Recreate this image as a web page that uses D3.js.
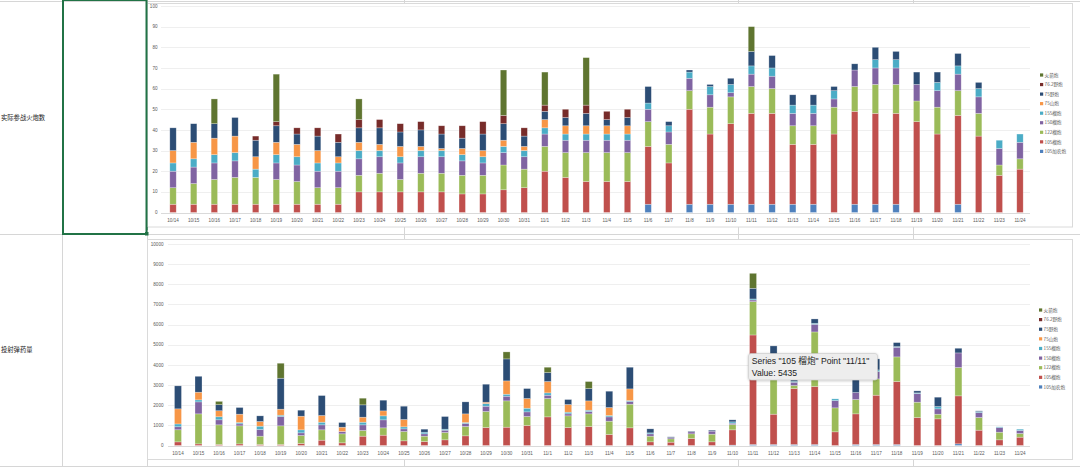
<!DOCTYPE html>
<meta charset="utf-8">
<style>
  body { margin: 0; background: #fff; }
  text { font-family: "Liberation Sans", "Noto Sans CJK SC", sans-serif; }
  .cjk { font-family: "Noto Sans CJK SC", sans-serif; }
</style>
<body>
<script src="https://d3js.org/d3.v7.min.js"></script>
<script>

var width = 1080,
    height = 467;

// categories
var dates = ["10/14","10/15","10/16","10/17","10/18","10/19","10/20","10/21","10/22","10/23",
  "10/24","10/25","10/26","10/27","10/28","10/29","10/30","10/31",
  "11/1","11/2","11/3","11/4","11/5","11/6","11/7","11/8","11/9","11/10","11/11","11/12",
  "11/13","11/14","11/15","11/16","11/17","11/18","11/19","11/20","11/21","11/22","11/23","11/24"];

// series, bottom of stack first
var seriesNames = ["105加农炮","105榴炮","122榴炮","150榴炮","155榴炮","75山炮","75野炮","76.2野炮","火箭炮"];
var seriesColors = ["#4F81BD","#C0504D","#9BBB59","#8064A2","#4BACC6","#F79646","#2C4D75","#772C2A","#5F7530"];

// 实际参战火炮数
var gun105j = [0,0,0,0,0,0,0,0,0,0,0,0,0,0,0,0,0,0, 0,0,0,0,0,4,0,4,4,4,4,4,4,4,0,4,4,4,0,0,4,0,0,0];
var gun105h = [4,4,4,4,4,4,4,4,4,10,10,10,10,10,9,9,11,12, 20,17,15,15,15,28,24,46,34,39,44,44,29,29,38,45,44,44,44,38,43,37,18,21];
var gun122 = [8,10,12,13,13,12,11,8,8,8,9,6,9,9,9,9,12,9, 12,12,14,14,14,12,9,9,13,13,13,12,9,9,13,12,14,14,10,13,12,11,5,5];
var gun150 = [8,8,8,8,0,8,8,8,8,8,8,8,8,8,7,6,6,6, 6,6,6,6,6,6,6,6,6,2,6,6,6,6,4,8,8,8,8,8,8,8,8,8];
var gun155 = [4,4,4,4,4,4,4,4,4,4,3,3,3,3,3,3,3,3, 3,3,3,3,3,3,3,3,4,4,4,4,4,4,4,0,4,4,0,4,4,4,4,4];
var gun75s = [6,8,8,8,6,6,6,6,3,4,3,5,2,1,3,3,3,2, 4,4,4,4,4,0,0,0,0,0,0,0,0,0,0,0,0,0,0,0,0,0,0,0];
var gun75y = [11,9,7,9,8,8,5,7,7,7,8,7,8,7,5,8,8,5, 4,4,6,3,4,8,2,1,1,3,7,6,5,5,2,3,6,4,6,5,6,3,0,0];
var gun762 = [0,0,0,0,2,2,3,4,4,4,4,4,4,4,6,6,4,4, 3,4,4,4,4,0,0,0,0,0,0,0,0,0,0,0,0,0,0,0,0,0,0,0];
var gunRocket = [0,0,12,0,0,23,0,0,0,10,0,0,0,0,0,0,22,0, 16,0,23,0,0,0,0,0,0,0,12,0,0,0,0,0,0,0,0,0,0,0,0,0];

// 投射弹药量
var shell105j = [0,0,0,0,0,0,0,0,0,0,0,0,0,0,0,0,0,0, 0,0,0,0,0,0,0,0,0,20,50,50,50,50,0,50,50,50,0,0,83,0,0,0];
var shell105h = [180,80,50,80,50,50,100,264,132,463,512,231,198,281,479,893,909,992,
  1421,893,942,545,876,182,165,347,182,757,5435,1504,2776,2876,678,1520,2446,3124,1388,1322,2380,760,281,413];
var shell122 = [600,1490,975,895,413,925,396,513,447,281,364,463,265,364,463,793,1306,446,
  910,578,628,662,1174,281,166,232,380,264,1655,2280,149,2710,1190,711,810,1223,761,232,1405,628,380,182];
var shell150 = [150,595,250,100,330,463,132,248,115,281,397,132,116,115,149,264,231,231,
  165,99,116,214,132,116,66,99,149,66,83,165,165,381,363,347,363,479,430,264,727,248,232,149];
var shell155 = [140,100,150,66,166,66,149,132,0,132,198,100,82,50,49,133,99,182,
  116,83,66,67,49,49,0,0,0,67,50,83,50,49,83,0,83,33,33,116,0,50,33,66];
var shell75s = [750,380,300,414,231,298,678,331,215,248,248,363,0,0,430,66,662,480,
  562,380,463,396,579,0,0,0,0,0,0,0,0,0,0,0,0,0,0,0,0,0,0,0];
var shell75y = [1140,790,300,330,281,1537,297,991,231,612,529,661,149,628,595,892,1091,495,
  446,248,611,810,1074,198,33,33,49,99,529,860,560,215,0,1250,546,198,99,463,231,33,0,0];
var shell762 = [0,0,0,0,0,0,0,0,0,0,0,0,0,0,0,0,0,0, 0,0,0,0,0,0,0,0,0,0,0,0,0,0,0,0,0,0,0,0,0,0,0,0];
var shellRocket = [0,0,165,0,0,744,0,0,0,330,0,0,0,0,0,0,347,0,
  264,0,348,0,0,0,0,0,0,0,743,0,0,0,0,0,0,0,0,0,0,0,0,0];

var countTicks = [0,10,20,30,40,50,60,70,80,90,100];
var shellTicks = [0,1000,2000,3000,4000,5000,6000,7000,8000,9000,10000];

var svg = d3.select("body").append("svg")
  .attr("width", width)
  .attr("height", height);

svg.append("rect").attr("width", width).attr("height", height).attr("fill", "#fff");

// spreadsheet grid
var gridColor = "#d6d6d6";
[62.5, 147.5, 404.5, 738.5, 913.5].forEach(function(x) {
  svg.append("line").attr("x1", x).attr("x2", x).attr("y1", 0).attr("y2", height)
    .attr("stroke", gridColor);
});
[1.5, 234.5, 466.5].forEach(function(y) {
  svg.append("line").attr("x1", 0).attr("x2", width).attr("y1", y).attr("y2", y)
    .attr("stroke", gridColor);
});

// row labels
svg.append("text").attr("class", "cjk").attr("x", 1).attr("y", 120)
  .attr("font-size", 6.3).attr("fill", "#222").text("实际参战火炮数");
svg.append("text").attr("class", "cjk").attr("x", 1).attr("y", 351.5)
  .attr("font-size", 6.3).attr("fill", "#222").text("投射弹药量");

function table(cols) {
  return dates.map(function(d, i) {
    var row = { date: d };
    seriesNames.forEach(function(s, j) { row[s] = cols[j][i]; });
    return row;
  });
}

function drawChart(o) {
  var g = svg.append("g");

  g.append("rect")
    .attr("x", o.frame[0]).attr("y", o.frame[1])
    .attr("width", o.frame[2]).attr("height", o.frame[3])
    .attr("fill", "#fff").attr("stroke", "#dadada");

  var x = d3.scaleBand().domain(dates).range(o.xRange).paddingInner(0).paddingOuter(0);
  var y = d3.scaleLinear().domain([0, o.ticks[o.ticks.length - 1]]).range(o.yRange);

  g.selectAll(".grid")
    .data(o.ticks)
    .enter().append("line")
      .attr("x1", o.gridX[0]).attr("x2", o.gridX[1])
      .attr("y1", function(d) { return Math.round(y(d)) + 0.5; })
      .attr("y2", function(d) { return Math.round(y(d)) + 0.5; })
      .attr("stroke", function(d) { return d === 0 ? "#d0d0d0" : "#ebebeb"; })
      .attr("stroke-width", 0.8);

  g.selectAll(".ylab")
    .data(o.ticks)
    .enter().append("text")
      .attr("x", o.labelX)
      .attr("y", function(d) { return y(d) + 1.6; })
      .attr("text-anchor", "end")
      .attr("font-size", 4.6)
      .attr("fill", "#595959")
      .text(function(d) { return d; });

  g.selectAll(".xlab")
    .data(dates)
    .enter().append("text")
      .attr("x", function(d) { return x(d) + x.bandwidth() / 2; })
      .attr("y", o.xLabelY)
      .attr("text-anchor", "middle")
      .attr("font-size", 4.6)
      .attr("fill", "#595959")
      .text(function(d) { return d; });

  var stacked = d3.stack().keys(seriesNames)(table(o.cols));

  g.selectAll(".layer")
    .data(stacked)
    .enter().append("g")
      .attr("fill", function(d, i) { return seriesColors[i]; })
    .selectAll("rect")
    .data(function(d) { return d.filter(function(p) { return p[1] > p[0]; }); })
    .enter().append("rect")
      .attr("x", function(d) { return x(d.data.date) + (x.bandwidth() - o.barW) / 2; })
      .attr("width", o.barW)
      .attr("y", function(d) { return y(d[1]); })
      .attr("height", function(d) { return y(d[0]) - y(d[1]); })
      .attr("stroke", "rgba(255,255,255,0.45)")
      .attr("stroke-width", 0.6);

  var legend = g.selectAll(".leg")
    .data(seriesNames.slice().reverse())
    .enter().append("g")
      .attr("transform", function(d, i) { return "translate(" + o.legend[0] + "," + (o.legend[1] + i * o.legend[2]) + ")"; });

  legend.append("rect")
    .attr("x", 0).attr("y", -1.6).attr("width", 3.2).attr("height", 3.2)
    .attr("fill", function(d) { return seriesColors[seriesNames.indexOf(d)]; });

  legend.append("text")
    .attr("class", "cjk")
    .attr("x", 4.6).attr("y", 1.7)
    .attr("font-size", 4.6)
    .attr("fill", "#595959")
    .text(function(d) { return d; });
}

drawChart({
  frame: [147.5, 3.5, 925, 223.5],
  xRange: [162.7, 1030.3],
  yRange: [212.5, 6],
  gridX: [161, 1030],
  ticks: countTicks,
  labelX: 157.5,
  xLabelY: 222.2,
  barW: 6.4,
  cols: [gun105j, gun105h, gun122, gun150, gun155, gun75s, gun75y, gun762, gunRocket],
  legend: [1040, 75, 9.55]
});

drawChart({
  frame: [147.5, 239.5, 925, 220],
  xRange: [167.7, 1030.3],
  yRange: [445.5, 244],
  gridX: [168, 1030],
  ticks: shellTicks,
  labelX: 163.5,
  xLabelY: 455.2,
  barW: 7,
  cols: [shell105j, shell105h, shell122, shell150, shell155, shell75s, shell75y, shell762, shellRocket],
  legend: [1039, 310, 9.62]
});

// cell selection
svg.append("rect")
  .attr("x", 63).attr("y", 0).attr("width", 83.5).attr("height", 234)
  .attr("fill", "none").attr("stroke", "#217346").attr("stroke-width", 2);
svg.append("rect")
  .attr("x", 145).attr("y", 232).attr("width", 3.5).attr("height", 3.5)
  .attr("fill", "#217346");
svg.append("rect")
  .attr("x", 146).attr("y", 227).attr("width", 1.5).attr("height", 3)
  .attr("fill", "#217346");

// hover tooltip
var defs = svg.append("defs");
var f = defs.append("filter").attr("id", "shadow").attr("x", "-10%").attr("y", "-20%").attr("width", "120%").attr("height", "160%");
f.append("feDropShadow").attr("dx", 0).attr("dy", 0.6).attr("stdDeviation", 1).attr("flood-color", "#000").attr("flood-opacity", 0.25);

var tip = svg.append("g").attr("transform", "translate(748.5,353.5)");
tip.append("rect")
  .attr("width", 129).attr("height", 26.5).attr("rx", 2.5)
  .attr("fill", "#ededed").attr("stroke", "#c8c8c8").attr("stroke-width", 0.6)
  .attr("filter", "url(#shadow)");
tip.append("text")
  .attr("x", 3.3).attr("y", 10.8)
  .attr("font-size", 8.6).attr("fill", "#222")
  .text("Series \"105 榴炮\" Point \"11/11\"");
tip.append("text")
  .attr("x", 3.3).attr("y", 22.2)
  .attr("font-size", 8.6).attr("fill", "#222")
  .text("Value: 5435");

</script>
